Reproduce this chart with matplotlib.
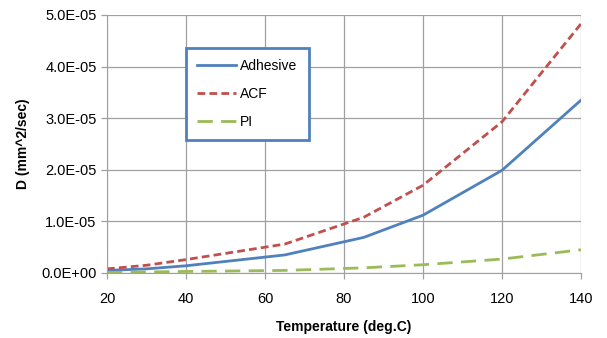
import matplotlib
matplotlib.use("Agg")
import matplotlib.pyplot as plt
from matplotlib.ticker import FuncFormatter

plt.rcParams['font.family'] = ['Liberation Sans', 'DejaVu Sans']

# temperature (deg.C)
temp = [20, 30, 40, 65, 85, 100, 120, 140]
# diffusion coefficient (mm^2/sec)
adhesive = [0.5e-6, 0.8e-6, 1.4e-6, 3.5e-6, 6.9e-6, 11.2e-6, 19.9e-6, 33.5e-6]
acf = [0.8e-6, 1.5e-6, 2.6e-6, 5.6e-6, 10.8e-6, 17.0e-6, 29.3e-6, 48.3e-6]
pi = [0.1e-6, 0.2e-6, 0.3e-6, 0.5e-6, 1.0e-6, 1.6e-6, 2.7e-6, 4.5e-6]

xticks = [20, 40, 60, 80, 100, 120, 140]
yticks = [0, 1e-5, 2e-5, 3e-5, 4e-5, 5e-5]


def sci_fmt(v, pos):
    s = "%.1E" % v
    return s


fig = plt.figure(figsize=(6.07, 3.38), dpi=100)
ax = fig.add_axes([107 / 607, 1 - 273 / 338, (581 - 107) / 607, (273 - 15) / 338])

ax.plot(temp, adhesive, color='#4F81BD', lw=2, label='Adhesive')
ax.plot(temp, acf, color='#C0504D', lw=2, dashes=(2.8, 1.5), label='ACF')
ax.plot(temp, pi, color='#9BBB59', lw=2, dashes=(5.5, 3), label='PI')

ax.set_xlim(20, 140)
ax.set_ylim(0, 5e-5)
ax.set_xticks(xticks)
ax.set_yticks(yticks)
ax.yaxis.set_major_formatter(FuncFormatter(sci_fmt))
ax.grid(True, color='#A0A0A0', lw=0.9)
ax.set_axisbelow(True)
for sp in ax.spines.values():
    sp.set_color('#A0A0A0')
ax.spines['top'].set_visible(False)
ax.spines['right'].set_visible(False)
ax.tick_params(colors='#A0A0A0', labelcolor='black', labelsize=10.5, length=4, width=0.9)
ax.tick_params(axis='x', pad=10)

ax.set_xlabel('Temperature (deg.C)', fontsize=10, fontweight='bold', labelpad=10)
ax.set_ylabel('D (mm^2/sec)', fontsize=10, fontweight='bold', labelpad=8)

leg = ax.legend(loc='upper left', bbox_to_anchor=((186 - 107) / 474, 1 - (48 - 15) / 258),
                frameon=True, fancybox=False, fontsize=10, handlelength=2.8,
                handletextpad=0.3, labelspacing=1.0, borderpad=0.8, borderaxespad=0)
leg.get_frame().set_edgecolor('#4F81BD')
leg.get_frame().set_linewidth(2)
leg.get_frame().set_alpha(1)

fig.savefig('out.png', dpi=100)
